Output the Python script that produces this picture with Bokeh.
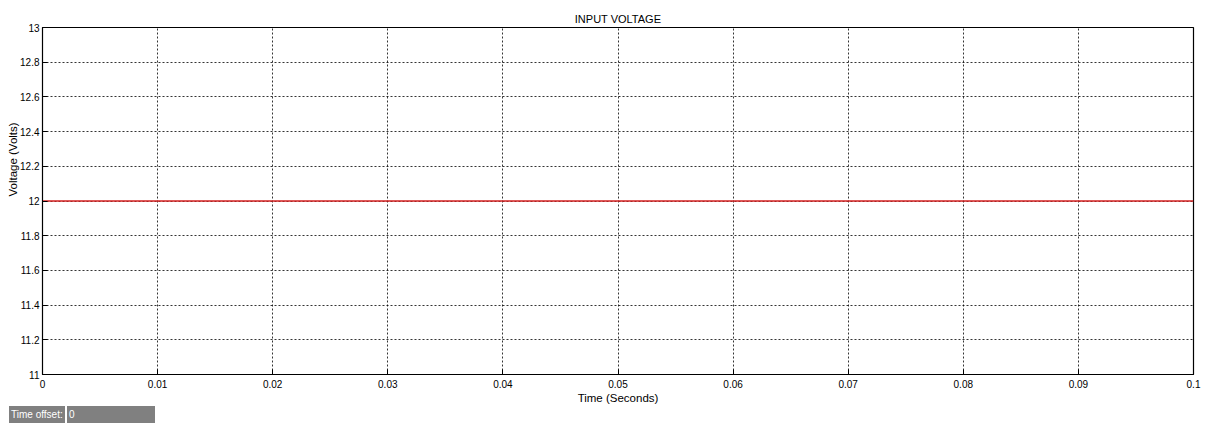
from bokeh.plotting import figure
from bokeh.models import FixedTicker, Range1d, Div
from bokeh.layouts import column
from bokeh.embed import file_html
from bokeh.resources import INLINE

# data
time_s = [0.0, 0.1]
voltage_v = [12.0, 12.0]
x_ticks = [0, 0.01, 0.02, 0.03, 0.04, 0.05, 0.06, 0.07, 0.08, 0.09, 0.1]
y_ticks = [11, 11.2, 11.4, 11.6, 11.8, 12, 12.2, 12.4, 12.6, 12.8, 13]
x_labels = ["0", "0.01", "0.02", "0.03", "0.04", "0.05", "0.06", "0.07", "0.08", "0.09", "0.1"]
y_labels = ["11", "11.2", "11.4", "11.6", "11.8", "12", "12.2", "12.4", "12.6", "12.8", "13"]
time_offset = "0"

FONT = "Liberation Sans"

p = figure(width=1205, height=406, output_backend="svg", toolbar_location=None,
           x_range=Range1d(0, 0.1), y_range=Range1d(11, 13),
           min_border_left=42, min_border_right=12, min_border_top=27, min_border_bottom=29,
           margin=0)
p.title.text = "INPUT VOLTAGE"
p.title.align = "center"
p.title.text_font = FONT
p.title.text_font_size = "11px"
p.title.text_font_style = "normal"
p.title.text_color = "black"
p.title.offset = 0
p.title.standoff = 5

p.line(time_s, voltage_v, line_color="#d42020", line_width=1.3)

p.outline_line_color = "black"
p.outline_line_width = 1.2
p.outline_line_alpha = 1

for ax, ticks, labels in ((p.xaxis[0], x_ticks, x_labels), (p.yaxis[0], y_ticks, y_labels)):
    ax.ticker = FixedTicker(ticks=ticks)
    ax.major_label_overrides = {t: l for t, l in zip(ticks, labels)}
    ax.major_tick_in = 5
    ax.major_tick_out = 0
    ax.minor_tick_in = 0
    ax.minor_tick_out = 0
    ax.major_label_text_font = FONT
    ax.major_label_text_font_size = "10px"
    ax.major_label_text_color = "black"
    ax.axis_line_color = "black"
    ax.major_tick_line_color = "black"
    ax.axis_label_text_font = FONT
    ax.axis_label_text_font_size = "11.5px"
    ax.axis_label_text_font_style = "normal"
    ax.axis_label_text_color = "black"

p.xaxis.axis_label = "Time (Seconds)"
p.xaxis.major_label_standoff = 5
p.xaxis.axis_label_standoff = 1
p.yaxis.major_label_standoff = 3
# leading non-breaking spaces push the y title upward, as in the reference
p.yaxis.axis_label = "\u00a0" * 26 + "Voltage (Volts)"
p.yaxis.axis_label_standoff = -2

p.xgrid.ticker = FixedTicker(ticks=x_ticks)
p.ygrid.ticker = FixedTicker(ticks=y_ticks)
p.grid.grid_line_color = "black"
p.grid.grid_line_dash = "2 2"
p.grid.grid_line_width = 0.8

box = Div(width=1205, height=17, margin=0, text=(
    "<div style=\"display:flex;margin-left:9px;height:17px;line-height:17px;"
    "font-family:'Liberation Sans';font-size:10px;color:white\">"
    "<div style=\"background:#808080;width:56px;padding-left:2px\">Time offset:</div>"
    "<div style=\"background:white;width:2px\"></div>"
    "<div style=\"background:#808080;width:88px;padding-left:2px\">" + time_offset + "</div>"
    "</div>"))

layout = column(p, box, spacing=0, margin=0)
open("out.html", "w").write(file_html(layout, INLINE))
